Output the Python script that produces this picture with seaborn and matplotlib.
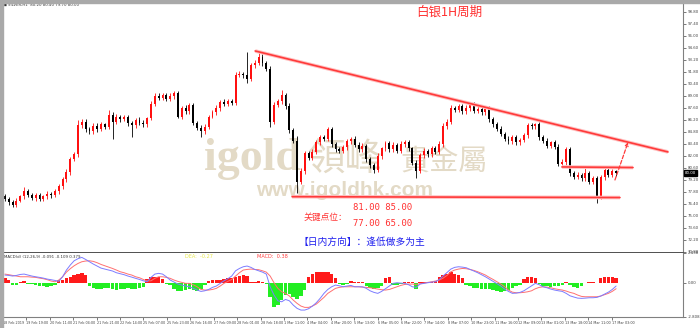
import numpy as np
import pandas as pd
import matplotlib
matplotlib.use("Agg")
import matplotlib.pyplot as plt
import seaborn as sns
from matplotlib.patches import Rectangle

# ---------------- data (2-hour sampled from the 1H chart) ----------------
first_open = 77.3
close = [
    77.0, 76.6, 76.3, 76.8, 77.3, 77.9, 77.5, 77.1, 77.4, 77.0, 77.3, 77.6, 77.4, 77.9, 78.5, 79.3,
    80.1, 81.6, 82.2, 85.6, 86.0, 85.2, 84.9, 85.5, 85.1, 85.7, 85.4, 86.8, 86.0, 86.6, 86.3, 86.5,
    85.8, 85.6, 86.2, 85.9, 85.7, 86.4, 88.1, 89.0, 88.8, 89.1, 88.7, 89.0, 89.3, 86.6, 87.6, 87.2,
    87.9, 85.9, 85.3, 84.9, 85.4, 86.6, 87.1, 87.6, 88.3, 88.1, 88.4, 88.2, 91.5, 91.6, 91.4, 91.0,
    92.6, 92.9, 93.6, 92.8, 92.2, 86.0, 88.0, 88.4, 89.1, 87.8, 85.0, 83.8, 79.0, 80.2, 82.3, 81.8,
    82.5, 83.6, 84.2, 84.0, 85.1, 83.4, 82.8, 82.6, 83.0, 83.7, 84.0, 83.3, 82.8, 83.2, 81.6, 80.9,
    80.4, 82.0, 82.9, 83.5, 82.8, 83.3, 82.6, 83.4, 83.6, 82.9, 81.2, 80.3, 82.1, 82.6, 82.2, 82.9,
    82.5, 83.4, 85.5, 86.0, 87.6, 87.4, 87.8, 87.2, 87.6, 88.0, 87.3, 87.5, 87.1, 87.5, 86.3, 85.7,
    85.2, 84.6, 84.0, 83.7, 84.2, 83.6, 83.9, 84.4, 85.6, 85.5, 85.7, 84.2, 83.8, 83.2, 83.6, 83.1,
    81.1, 81.3, 82.8, 80.0, 79.6, 79.8, 79.4, 80.0, 79.0, 79.4, 77.3, 79.5, 80.4, 79.8, 80.2, 80.0]
up_wick = [
    0.3, 0.2, 0.3, 0.3, 0.2, 0.5, 0.3, 0.2, 0.3, 0.3, 0.2, 0.3, 0.2, 0.3, 0.2, 0.3,
    0.4, 0.3, 0.3, 0.6, 0.3, 0.3, 0.2, 0.3, 0.4, 0.3, 0.2, 0.6, 0.3, 0.3, 0.2, 0.3,
    0.3, 0.3, 0.2, 0.3, 0.3, 0.2, 0.3, 0.4, 0.3, 0.3, 0.2, 0.3, 0.3, 0.3, 0.2, 0.3,
    0.3, 0.3, 0.2, 0.3, 0.3, 0.2, 0.3, 0.3, 0.2, 0.3, 0.3, 0.3, 0.3, 0.3, 0.2, 2.7,
    0.3, 0.3, 0.6, 0.3, 0.3, 0.3, 0.3, 0.3, 0.6, 0.3, 0.4, 0.3, 0.5, 0.4, 0.3, 0.3,
    0.3, 0.3, 0.2, 0.3, 0.3, 0.3, 0.2, 0.3, 0.3, 0.3, 0.2, 0.3, 0.3, 0.3, 0.2, 0.3,
    0.3, 0.3, 0.2, 0.3, 0.3, 0.3, 0.2, 0.3, 0.3, 0.3, 0.2, 0.3, 0.3, 0.3, 0.2, 0.3,
    0.3, 0.3, 0.3, 0.3, 0.3, 0.2, 0.3, 0.3, 0.3, 0.2, 0.3, 0.3, 0.2, 0.3, 0.3, 0.2,
    0.3, 0.3, 0.2, 0.3, 0.3, 0.3, 0.2, 0.3, 0.2, 0.3, 0.2, 0.3, 0.3, 0.3, 0.2, 0.3,
    0.3, 0.3, 0.2, 0.3, 0.3, 0.3, 0.2, 0.6, 0.3, 0.3, 0.3, 0.3, 0.3, 0.2, 0.3, 0.2]
lo_wick = [
    0.3, 0.3, 0.25, 0.3, 0.2, 0.3, 0.3, 0.2, 0.3, 0.3, 0.2, 0.3, 0.3, 0.2, 0.3, 0.3,
    0.3, 0.3, 0.2, 0.3, 0.3, 0.4, 0.3, 0.3, 0.3, 0.2, 0.3, 0.3, 2.0, 0.3, 0.3, 0.2,
    0.3, 1.4, 0.3, 0.3, 0.3, 0.3, 0.2, 0.3, 0.3, 0.3, 0.3, 0.3, 0.3, 0.2, 0.3, 0.3,
    0.3, 0.3, 0.3, 0.7, 0.3, 0.3, 0.2, 0.3, 0.3, 0.3, 0.3, 0.3, 0.3, 0.3, 0.3, 0.5,
    0.3, 0.3, 0.3, 0.3, 0.3, 0.6, 0.3, 0.3, 0.3, 0.3, 0.3, 0.3, 1.3, 0.3, 0.3, 0.3,
    0.3, 0.3, 0.3, 0.3, 0.3, 0.3, 0.3, 0.3, 0.3, 0.3, 0.3, 0.3, 0.3, 0.3, 0.3, 0.3,
    0.4, 0.3, 0.3, 0.3, 0.3, 0.3, 0.3, 0.3, 0.3, 0.3, 0.3, 0.9, 0.3, 0.3, 0.3, 0.3,
    0.3, 0.3, 0.3, 0.3, 0.3, 0.3, 0.3, 0.3, 0.3, 0.3, 0.3, 0.3, 0.3, 0.3, 0.3, 0.3,
    0.3, 0.3, 0.3, 0.3, 0.3, 0.3, 0.3, 0.3, 0.3, 0.3, 0.3, 0.3, 0.3, 0.3, 0.3, 0.3,
    0.3, 0.3, 0.3, 0.3, 0.3, 0.3, 0.3, 0.3, 0.3, 0.3, 0.8, 0.3, 0.3, 0.3, 0.3, 0.3]
macd_line = [
    0.63, 0.60, 0.55, 0.60, 0.68, 0.71, 0.63, 0.55, 0.49, 0.44, 0.38, 0.30, 0.25, 0.19, 0.11, 0.49,
    1.04, 1.45, 1.80, 1.97, 2.08, 1.91, 1.72, 1.53, 1.37, 1.20, 1.12, 1.04, 0.96, 0.82, 0.74, 0.66,
    0.55, 0.46, 0.36, 0.27, 0.16, 0.08, 0.44, 0.71, 0.77, 0.71, 0.49, 0.22, 0.05, -0.11, -0.19, -0.27,
    -0.33, -0.46, -0.60, -0.71, -0.66, -0.55, -0.38, -0.27, -0.05, 0.16, 0.33, 0.55, 0.98, 1.17, 1.31, 1.37,
    1.26, 1.09, 0.98, 0.87, 0.71, -0.33, -1.01, -1.48, -1.56, -1.37, -1.48, -1.83, -2.10, -2.24, -2.24, -2.13,
    -1.91, -1.64, -1.28, -0.87, -0.55, -0.33, -0.19, -0.25, -0.33, -0.27, -0.22, -0.33, -0.33, -0.33, -0.46, -0.66,
    -0.79, -0.87, -0.71, -0.49, -0.27, -0.05, 0.00, -0.03, -0.05, -0.16, -0.33, -0.38, -0.11, -0.05, 0.00, 0.05,
    0.08, 0.27, 0.55, 0.82, 1.12, 1.26, 1.31, 1.28, 1.23, 1.09, 0.96, 0.82, 0.66, 0.49, 0.30, 0.11,
    -0.08, -0.27, -0.52, -0.71, -0.87, -0.85, -0.79, -0.66, -0.46, -0.27, -0.05, -0.16, -0.33, -0.41, -0.52, -0.60,
    -0.66, -0.71, -0.87, -1.07, -1.17, -1.26, -1.28, -1.26, -1.23, -1.23, -1.20, -1.09, -0.93, -0.77, -0.55, -0.27]
signal_line = [
    0.71, 0.66, 0.60, 0.55, 0.49, 0.49, 0.49, 0.46, 0.44, 0.38, 0.33, 0.25, 0.14, 0.08, 0.22, 0.49,
    0.87, 1.15, 1.39, 1.58, 1.72, 1.78, 1.80, 1.75, 1.64, 1.50, 1.39, 1.28, 1.17, 1.04, 0.90, 0.82,
    0.71, 0.63, 0.49, 0.41, 0.27, 0.14, 0.16, 0.36, 0.49, 0.49, 0.44, 0.36, 0.22, 0.11, 0.03, -0.05,
    -0.05, -0.16, -0.33, -0.55, -0.60, -0.60, -0.55, -0.46, -0.27, -0.05, 0.11, 0.27, 0.55, 0.82, 1.04, 1.09,
    1.12, 1.09, 1.07, 0.98, 0.87, 0.55, 0.00, -0.46, -0.74, -0.87, -1.09, -1.42, -1.69, -1.91, -2.02, -2.02,
    -1.91, -1.75, -1.48, -1.20, -0.87, -0.66, -0.46, -0.38, -0.33, -0.33, -0.33, -0.33, -0.33, -0.36, -0.38, -0.41,
    -0.46, -0.52, -0.57, -0.60, -0.55, -0.44, -0.33, -0.22, -0.14, -0.11, -0.11, -0.14, -0.08, -0.03, 0.03, 0.08,
    0.14, 0.22, 0.38, 0.60, 0.90, 1.04, 1.12, 1.17, 1.15, 1.09, 1.01, 0.90, 0.77, 0.63, 0.44, 0.27,
    0.08, -0.11, -0.33, -0.60, -0.77, -0.82, -0.82, -0.79, -0.74, -0.66, -0.49, -0.38, -0.33, -0.36, -0.41, -0.49,
    -0.55, -0.60, -0.68, -0.79, -0.87, -1.01, -1.12, -1.15, -1.15, -1.15, -1.15, -1.09, -0.98, -0.87, -0.71, -0.49]
macd_hist = [
    0.36, 0.20, -0.15, -0.15, 0.10, 0.12, -0.10, -0.12, -0.15, -0.25, -0.30, -0.33, -0.28, -0.20, 0.20, 0.25,
    0.40, 0.50, 0.60, 0.75, 0.80, 0.60, -0.30, -0.45, -0.50, -0.55, -0.45, -0.40, -0.50, -0.60, -0.55, -0.50,
    -0.45, -0.55, -0.50, -0.40, -0.35, 0.30, 0.45, 0.50, 0.45, 0.30, -0.10, -0.15, -0.50, -0.65, -0.70, -0.60,
    -0.55, -0.60, -0.70, -0.50, -0.20, 0.15, 0.20, 0.25, 0.20, 0.30, 0.35, 0.40, 0.50, 0.55, 0.60, 0.55,
    0.10, 0.05, 0.12, 0.08, -0.10, -1.20, -2.00, -1.80, -1.40, -1.00, -0.90, -1.20, -1.30, -1.10, -0.60, 0.50,
    0.75, 0.85, 0.90, 0.90, 0.85, 0.75, 0.40, -0.10, -0.15, -0.10, 0.15, 0.10, 0.05, 0.05, -0.30, -0.45,
    -0.50, -0.40, -0.25, 0.40, 0.50, -0.15, -0.15, -0.10, 0.10, 0.10, 0.05, -0.55, 0.05, 0.10, 0.10, 0.10,
    0.15, 0.50, 0.65, 0.75, 0.85, 0.75, 0.60, 0.35, -0.20, -0.30, -0.40, -0.45, -0.50, -0.50, -0.55, -0.60,
    -0.70, -0.75, -0.70, -0.60, -0.45, -0.30, -0.20, 0.30, 0.50, 0.50, 0.35, -0.10, -0.25, -0.30, -0.35, -0.30,
    -0.25, -0.20, 0.05, -0.20, -0.35, -0.40, -0.30, -0.05, 0.05, 0.05, -0.05, 0.40, 0.50, 0.50, 0.45, 0.40]

date_labels = ["18 Feb 2019", "19 Feb 19:00", "20 Feb 11:00", "21 Feb 04:00", "21 Feb 21:00",
               "22 Feb 14:00", "25 Feb 07:00", "25 Feb 23:00", "26 Feb 16:00", "27 Feb 09:00",
               "28 Feb 01:00", "28 Feb 18:00", "1 Mar 11:00", "4 Mar 04:00", "4 Mar 20:00",
               "5 Mar 13:00", "6 Mar 05:00", "6 Mar 22:00", "7 Mar 14:00", "8 Mar 07:00",
               "10 Mar 23:00", "11 Mar 16:00", "12 Mar 09:00", "13 Mar 01:00", "13 Mar 18:00",
               "14 Mar 11:00", "17 Mar 03:00"]
price_ticks = [98.80, 97.40, 96.00, 94.60, 93.20, 91.80, 90.40, 89.00, 87.60, 86.20, 84.80,
               83.40, 82.00, 80.60, 79.20, 77.80, 76.40, 75.00, 73.60, 72.20, 70.80]
macd_ticks = [2.438, 0.0, -2.808]
macd_tick_labels = ["2.438", "0.00", "-2.808"]

# annotation lines (candle index, price)
trend_top_x, trend_top_y = [65.1, 172.5], [94.25, 82.47]
support_x, support_y = [74.7, 160.0], [77.25, 77.15]
resist_x, resist_y = [144.9, 163.4], [80.72, 80.65]
arrow_x, arrow_y = [158.7, 162.1], [79.2, 83.6]

title_text = "白银1H周期"
key_label = "关键点位："
key_hi = "81.00 85.00"
key_lo = "77.00 65.00"
direction_text = "【日内方向】：逢低做多为主"

# ---------------- figure ----------------
sns.set_theme(style="white")
plt.rcParams['font.family'] = ['DejaVu Sans', 'Noto Sans CJK SC']

W, H = 700, 328
fig = plt.figure(figsize=(7.0, 3.28), dpi=100)
fig.patch.set_facecolor("white")


def fx(px):
    return px / W


def fy(py):
    return 1 - py / H


ax_p = fig.add_axes([fx(3), fy(253), fx(680), 249 / H])
ax_m = fig.add_axes([fx(3), fy(317), fx(680), 64 / H], sharex=ax_p)

close = np.array(close)
n = len(close)
idx = np.arange(n)
open_ = np.r_[first_open, close[:-1]]
high = np.maximum(open_, close) + np.array(up_wick)
low = np.minimum(open_, close) - np.array(lo_wick)
is_up = close >= open_
ccol = np.where(is_up, "#ff1010", "#000000")

# watermark (behind candles)
wm = "#e3dac6"
ax_p.text(fx(204), fy(170), "igold", transform=fig.transFigure, family="Liberation Serif",
          weight="bold", fontsize=33, color=wm, zorder=0.5, va="baseline")
ax_p.text(fx(308), fy(170), "領峰", transform=fig.transFigure, family="Noto Sans CJK TC",
          fontsize=27, color=wm, zorder=0.5, va="baseline")
ax_p.text(fx(400), fy(170), "貴金屬", transform=fig.transFigure, family="Noto Sans CJK TC",
          fontsize=21, color=wm, zorder=0.5, va="baseline")
ax_p.text(fx(256), fy(196), "www.igoldhk.com", transform=fig.transFigure, family="Liberation Sans",
          weight="bold", fontsize=15, color=wm, zorder=0.5, va="baseline")

# candles
ax_p.vlines(idx, low, high, colors=ccol, lw=0.6, zorder=2)
body = np.maximum(np.abs(close - open_), 0.08)
ax_p.bar(idx, body, bottom=np.minimum(open_, close), width=0.5, color=ccol, lw=0, zorder=2.5)

# trend / key lines
lc = "#ff3a3a"
for xs, ys in [(trend_top_x, trend_top_y), (support_x, support_y), (resist_x, resist_y)]:
    ax_p.plot(xs, ys, color="#ffc0c0", lw=2.6, zorder=3, solid_capstyle="butt")
    ax_p.plot(xs, ys, color=lc, lw=1.2, zorder=3.1)
ax_p.annotate("", xy=(arrow_x[1], arrow_y[1]), xytext=(arrow_x[0], arrow_y[0]),
              arrowprops=dict(arrowstyle="->", color=lc, lw=0.9, linestyle=(0, (3, 1.5)),
                              shrinkA=0, shrinkB=0, mutation_scale=5), zorder=3.2)

ax_p.set_xlim(-0.5, 176.4)
ax_p.set_ylim(70.68, 99.73)
ax_p.yaxis.tick_right()
ax_p.set_yticks(price_ticks)
ax_p.set_yticklabels([f"{v:.2f}" for v in price_ticks])
ax_p.tick_params(axis="y", labelsize=2.8, length=2, width=0.5, pad=1.5, colors="#444444", right=True)
ax_p.tick_params(axis="x", bottom=False, labelbottom=False)
for s in ["top", "left"]:
    ax_p.spines[s].set_visible(False)
ax_p.spines["right"].set_color("#808080")
ax_p.spines["right"].set_linewidth(0.8)
ax_p.spines["bottom"].set_color("#505050")
ax_p.spines["bottom"].set_linewidth(1.4)
ax_p.grid(False)

# current price box
last = close[-1]
ax_p.text(1.003, last, f"{last:.2f}", transform=ax_p.get_yaxis_transform(), fontsize=2.9,
          color="white", va="center", ha="left", zorder=5,
          bbox=dict(boxstyle="square,pad=0.25", fc="black", ec="black"))

# header
ax_p.text(fx(4), fy(5), "■", transform=fig.transFigure, fontsize=2.2, color="#333333", va="center")
ax_p.text(fx(8), fy(5), f"SILVER,H1  {open_[-1]:.2f} {high[-1]:.2f} {low[-1]:.2f} {last:.2f}",
          transform=fig.transFigure, fontsize=2.8, color="#333333", va="center")

# overlay texts
cjk = ["Noto Sans CJK SC", "DejaVu Sans"]
fig.text(fx(449), fy(12), title_text, family=cjk, fontsize=9, color="#ff3030",
         ha="center", va="center")
fig.text(fx(325), fy(217), key_label, family=cjk, fontsize=6.3, color="#ff3030",
         ha="center", va="center")
fig.text(fx(383), fy(207), key_hi, family="DejaVu Sans Mono", fontsize=6.4, color="#ff3030",
         ha="center", va="center")
fig.text(fx(383), fy(224), key_lo, family="DejaVu Sans Mono", fontsize=6.4, color="#ff3030",
         ha="center", va="center")
fig.text(fx(362), fy(242), direction_text, family=cjk, fontsize=7, color="#2020ee",
         ha="center", va="center")

# ---------------- MACD panel ----------------
hist = np.array(macd_hist)
hcol = np.where(hist >= 0, "#ff1a1a", "#22ee22")
ax_m.bar(idx, hist, width=0.9, color=hcol, lw=0, zorder=1)
df = pd.DataFrame({"i": idx, "macd": macd_line, "signal": signal_line})
sns.lineplot(data=df, x="i", y="macd", ax=ax_m, color="#7c7cff", lw=0.7, zorder=3)
sns.lineplot(data=df, x="i", y="signal", ax=ax_m, color="#ff7070", lw=0.7, zorder=2.5)
ax_m.set_xlabel("")
ax_m.set_ylabel("")
ax_m.set_ylim(-2.808, 2.438)
ax_m.yaxis.tick_right()
ax_m.set_yticks(macd_ticks)
ax_m.set_yticklabels(macd_tick_labels)
ax_m.tick_params(axis="y", labelsize=2.8, length=2, width=0.5, pad=1.5, colors="#444444", right=True)
tick_pos = -0.5 + 6.09 * np.arange(len(date_labels))
ax_m.set_xticks(tick_pos)
ax_m.set_xticklabels(date_labels)
ax_m.tick_params(axis="x", labelsize=2.45, length=2, width=0.5, pad=1.2, colors="#444444",
                 bottom=True)
for lbl in ax_m.get_xticklabels():
    lbl.set_ha("left")
ax_m.set_xlim(-0.5, 176.4)
for s in ["top", "left"]:
    ax_m.spines[s].set_visible(False)
for s in ["right", "bottom"]:
    ax_m.spines[s].set_color("#808080")
    ax_m.spines[s].set_linewidth(0.8)
ax_m.grid(False)

ax_m.text(fx(4), fy(257), "MACD(d) (12,26,9) -0.091 -0.109 0.379", transform=fig.transFigure,
          fontsize=2.8, color="#333333", va="center")
ax_m.text(fx(185), fy(257), "DEA:  -0.27", transform=fig.transFigure, fontsize=3.6,
          color="#e8e84a", va="center")
ax_m.text(fx(257), fy(257), "MACD:  0.38", transform=fig.transFigure, fontsize=3.6,
          color="#ff4040", va="center")

# frame bands
fig.patches.append(Rectangle((0, fy(3)), 1, 3 / H, transform=fig.transFigure,
                             color="#a9a9a9", zorder=10))
fig.patches.append(Rectangle((0, 0), fx(3), 1, transform=fig.transFigure,
                             color="#a9a9a9", zorder=10))

fig.savefig("out.png", dpi=100)
